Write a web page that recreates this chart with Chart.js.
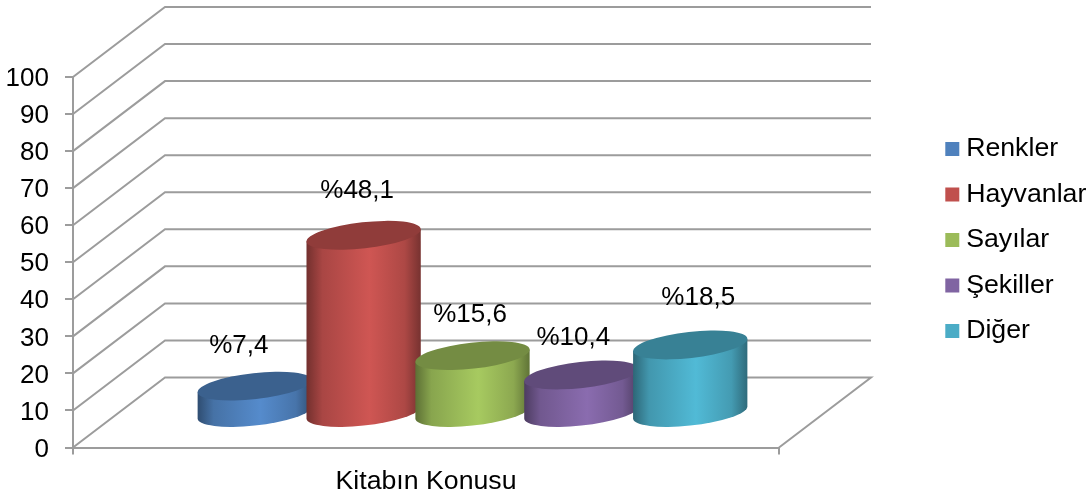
<!DOCTYPE html>
<html>
<head>
<meta charset="utf-8">
<title>Kitabın Konusu</title>
<script src="https://cdn.jsdelivr.net/npm/chart.js@4"></script>
<style>
  html, body { margin: 0; padding: 0; background: #fff; }
  canvas { display: block; }
</style>
</head>
<body>
<canvas id="cylinderChart" width="1092" height="496"></canvas>
<script>
const categories = ["Kitabın Konusu"];
const seriesNames = ["Renkler", "Hayvanlar", "Sayılar", "Şekiller", "Diğer"];
const seriesValues = [7.4, 48.1, 15.6, 10.4, 18.5];
const seriesColors = ["#4F81BD", "#C0504D", "#9BBB59", "#8064A2", "#4BACC6"];
const yTicks = [0, 10, 20, 30, 40, 50, 60, 70, 80, 90, 100];

// 3d look
const depthX = 92, depthY = -70;
const barShiftX = 46.5, barShiftY = -34;
const tilt = -6.4 * Math.PI / 180;
const capHeight = 13;
const wallColor = "#9c9c9c";
const fontName = "'Liberation Sans', Arial, sans-serif";
const fontSize = 26.7;
const numberSize = 26;
// the labels are not placed evenly in the picture
const labelShift = [[-16, -40], [-6.5, -44], [-2.5, -41], [-8, -37], [8, -47]];

function shade(hex, k) {
  const n = parseInt(hex.slice(1), 16);
  const r = Math.min(255, Math.round((n >> 16 & 255) * k));
  const g = Math.min(255, Math.round((n >> 8 & 255) * k));
  const b = Math.min(255, Math.round((n & 255) * k));
  return "rgb(" + r + "," + g + "," + b + ")";
}

const wallPlugin = {
  id: "wall",
  beforeDatasetsDraw(chart) {
    const ctx = chart.ctx, y = chart.scales.y, area = chart.chartArea;
    ctx.save();
    ctx.strokeStyle = wallColor;
    ctx.lineWidth = 2;
    ctx.lineJoin = "miter";
    y.ticks.forEach(function (t) {
      const py = y.getPixelForValue(t.value);
      ctx.beginPath();
      ctx.moveTo(area.left, py);
      ctx.lineTo(area.left + depthX, py + depthY);
      ctx.lineTo(area.right + depthX, py + depthY);
      if (t.value === 0) ctx.lineTo(area.right, py);
      ctx.stroke();
    });
    ctx.restore();
  }
};

const cylinderPlugin = {
  id: "cylinder",
  beforeDatasetDraw() {
    return false;
  },
  afterDatasetsDraw(chart) {
    const ctx = chart.ctx;
    seriesValues.forEach(function (v, i) {
      const bar = chart.getDatasetMeta(i).data[0];
      const color = seriesColors[i];
      const a = bar.width * 0.528, b = capHeight;
      const cx = bar.x + barShiftX;
      const top = bar.y + barShiftY;
      const base = bar.base + barShiftY;
      const t0 = Math.atan(-(b / a) * Math.tan(tilt));
      const ex = a * Math.cos(t0) * Math.cos(tilt) - b * Math.sin(t0) * Math.sin(tilt);
      const ey = a * Math.cos(t0) * Math.sin(tilt) + b * Math.sin(t0) * Math.cos(tilt);

      const grad = ctx.createLinearGradient(cx - ex, 0, cx + ex, 0);
      grad.addColorStop(0, shade(color, 0.6));
      grad.addColorStop(0.14, shade(color, 0.88));
      grad.addColorStop(0.55, shade(color, 1.08));
      grad.addColorStop(0.86, shade(color, 0.9));
      grad.addColorStop(1, shade(color, 0.62));

      ctx.save();
      ctx.beginPath();
      ctx.moveTo(cx - ex, top - ey);
      ctx.lineTo(cx - ex, base - ey);
      ctx.ellipse(cx, base, a, b, tilt, t0 + Math.PI, t0, true);
      ctx.lineTo(cx + ex, top + ey);
      ctx.closePath();
      ctx.fillStyle = grad;
      ctx.fill();

      ctx.beginPath();
      ctx.ellipse(cx, top, a, b, tilt, 0, Math.PI * 2);
      ctx.fillStyle = shade(color, 0.75);
      ctx.fill();
      ctx.restore();
    });

    // value labels go over everything
    ctx.save();
    ctx.fillStyle = "#000";
    ctx.font = numberSize + "px " + fontName;
    ctx.textAlign = "center";
    ctx.textBaseline = "middle";
    seriesValues.forEach(function (v, i) {
      const bar = chart.getDatasetMeta(i).data[0];
      const text = "%" + String(v).replace(".", ",");
      ctx.fillText(text, bar.x + barShiftX + labelShift[i][0], bar.y + barShiftY + labelShift[i][1]);
    });
    ctx.restore();
  }
};

// legend keeps the whole right side free, then moves to its real place
const legendPlugin = {
  id: "legendPlace",
  beforeLayout(chart) {
    const legend = chart.legend;
    if (legend.fitWide) return;
    legend.fitWide = true;
    const fit = legend.fit;
    legend.fit = function () {
      fit.call(this);
      this.width = 313;
    };
  },
  afterLayout(chart) {
    const legend = chart.legend;
    legend.left = 933;
    legend.right = 1092;
    legend.top -= 46.5;
    legend.bottom -= 46.5;
  },
  beforeDraw(chart) {
    // tick numbers sit a little under their tick in the picture
    chart.scales.y.getLabelItems().forEach(function (item) {
      if (!item.moved) {
        item.moved = true;
        item.textOffset += 2;
      }
    });
  }
};

const datasets = seriesNames.map(function (name, i) {
  return {
    label: name,
    data: [seriesValues[i]],
    backgroundColor: seriesColors[i],
    categoryPercentage: 0.771,
    barPercentage: 1
  };
});

new Chart(document.getElementById("cylinderChart"), {
  type: "bar",
  data: { labels: categories, datasets: datasets },
  plugins: [wallPlugin, cylinderPlugin, legendPlugin],
  options: {
    responsive: false,
    animation: false,
    layout: { padding: { top: 77, left: 0, right: 0, bottom: 0 } },
    plugins: {
      tooltip: { enabled: false },
      legend: {
        position: "right",
        labels: {
          color: "#000",
          font: { family: fontName, size: fontSize },
          usePointStyle: true,
          pointStyle: "rect",
          boxWidth: 1,
          boxHeight: 14,
          padding: 18.8
        }
      }
    },
    scales: {
      x: {
        afterFit(scale) { scale.height = 48.5; },
        grid: { drawOnChartArea: false, color: wallColor, lineWidth: 2, tickLength: 7 },
        border: { color: wallColor, width: 2 },
        ticks: { color: "#000", font: { family: fontName, size: fontSize }, padding: 11, maxRotation: 0 }
      },
      y: {
        min: 0,
        max: 100,
        afterFit(scale) { scale.width = 73; },
        afterBuildTicks(scale) { scale.ticks = yTicks.map(function (v) { return { value: v }; }); },
        grid: { drawOnChartArea: false, color: wallColor, lineWidth: 2, tickLength: 8 },
        border: { color: wallColor, width: 2 },
        ticks: { color: "#000", font: { family: fontName, size: numberSize }, padding: 16 }
      }
    }
  }
});
</script>
</body>
</html>
